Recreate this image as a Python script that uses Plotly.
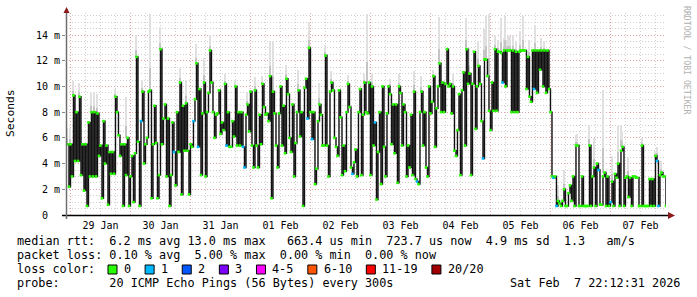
import pandas as pd
import plotly.graph_objects as go

# ---------------- data (median RTT in ms, 36-minute steps) ----------------
median_part1 = [5.5, 2.2, 5.5, 3.0, 9.3, 4.2, 8.0, 4.2, 9.2, 3.1, 5.5, 1.9, 5.5, 0.7, 7.2, 3.0, 8.0, 3.0, 8.0, 3.0,
                7.9, 4.6, 5.4, 1.3, 7.3, 4.0, 5.4, 0.8, 4.9, 3.2, 4.9, 3.2, 9.2, 8.0, 6.2, 4.6, 5.5, 0.7, 5.5, 3.1,
                6.0, 0.7, 3.0, 4.6, 1.0, 4.8, 12.3, 5.7, 0.7, 7.3, 9.6, 4.0, 5.5, 6.0, 9.6, 9.7, 1.3, 5.5, 8.5, 5.6,
                1.3, 3.1, 12.9, 5.5, 7.5, 8.6, 3.0, 7.5, 0.7, 3.1, 7.2, 4.9, 2.3, 8.0, 4.9, 10.3, 1.6, 8.5, 5.0, 8.7,
                5.0, 1.6, 5.5, 5.3, 7.3, 9.0, 11.8, 5.3, 9.8, 3.1, 7.9, 10.3, 3.0, 8.0, 9.5, 12.8, 10.3, 8.0, 6.0, 7.8]
median_part2 = [7.9, 9.7, 6.3, 7.2, 6.6, 10.2, 5.4, 8.0, 5.3, 5.3, 7.3, 6.1, 10.0, 5.4, 8.0, 5.4, 8.0, 5.3, 3.7, 7.8,
                8.6, 6.5, 9.6, 5.4, 3.7, 9.7, 5.4, 3.7, 7.8, 5.5, 10.2, 8.4, 7.8, 7.9, 7.3, 10.8, 1.3, 9.6, 7.9, 5.4,
                3.7, 7.9, 10.0, 5.4, 8.5, 4.8, 10.6, 9.4, 6.0, 4.9, 8.6, 3.0, 5.6, 8.0, 9.7, 6.1, 8.0, 0.7, 9.9, 10.6,
                7.5, 13.0, 8.0, 5.9, 8.0, 2.4, 3.6, 7.3, 8.6, 7.8, 5.4, 5.4, 12.4, 5.4, 3.0, 9.6, 10.3, 9.7, 6.0, 5.3,
                4.6, 9.7, 7.6, 3.1, 5.4, 3.4, 8.0, 10.2, 8.4, 3.7, 3.2, 4.1, 5.1, 3.0, 8.0, 9.8, 3.1, 7.8, 10.3, 8.0]
median_part3 = [7.9, 10.3, 3.1, 10.0, 5.4, 7.2, 1.2, 4.9, 8.0, 2.4, 10.0, 5.3, 3.0, 7.9, 10.0, 9.4, 5.5, 8.6, 4.8, 8.6,
                2.5, 10.0, 9.5, 5.4, 8.6, 8.0, 3.0, 5.4, 3.7, 7.8, 3.1, 9.6, 2.8, 2.6, 2.4, 8.0, 9.6, 5.4, 8.0, 3.7,
                3.0, 10.0, 7.9, 8.8, 10.8, 5.3, 8.3, 10.0, 11.8, 8.0, 10.3, 8.0, 10.2, 12.9, 10.0, 10.2, 7.9, 10.0, 5.0, 4.6,
                6.6, 9.4, 3.1, 9.7, 11.1, 5.4, 12.9, 10.2, 11.0, 3.1, 10.2, 12.7, 6.7, 10.0, 11.6, 10.2, 7.3, 4.4, 12.1, 12.1,
                10.8, 8.1, 6.6, 10.3, 8.1, 12.9, 8.1, 12.7, 12.7, 12.6, 10.3, 12.8, 10.0, 12.8, 12.8, 12.8, 8.0, 12.8, 8.0, 12.7]
median_part4 = [8.0, 12.7, 12.8, 12.8, 12.8, 12.8, 9.8, 12.3, 9.2, 8.8, 12.8, 9.8, 12.8, 9.5, 12.8, 11.3, 12.8, 10.0, 12.8, 9.5,
                12.8, 9.8, 8.0, 3.0, 2.9, 3.0, 0.7, 1.1, 0.9, 0.7, 1.1, 2.0, 0.7, 0.7, 1.7, 2.3, 1.1, 3.0, 0.7, 5.4,
                5.4, 0.7, 0.7, 3.0, 0.7, 0.7, 0.7, 0.7, 5.4, 0.7, 3.0, 3.7, 0.7, 4.0, 3.5, 0.8, 0.8, 3.0, 3.3, 0.7,
                3.0, 0.7, 1.0, 2.6, 0.7, 3.2, 2.9, 4.0, 0.7, 5.0, 5.3, 0.7, 2.9, 3.0, 1.4, 2.9, 0.7, 3.0, 3.0, 2.9,
                2.9, 0.7, 0.7, 5.4, 0.7, 0.7, 0.7, 0.7, 2.8, 0.7, 2.8, 0.7, 4.6, 4.2, 0.7, 3.1, 3.3, 3.0, 3.0, 0.7]
median_ms = median_part1 + median_part2 + median_part3 + median_part4

# samples with 1/20 packets lost (all others 0 lost)
loss1_samples = [49, 71, 84, 87, 106, 117, 118, 160, 163, 190, 205, 233, 277, 290, 311, 324, 326, 354, 362, 393, 394]

# smoke (spread of the 20 pings): sample index and top of smoke in ms
smoke_samples = [0, 2, 4, 8, 16, 18, 20, 32, 39, 46, 50, 55, 62, 75, 79, 86, 91, 95,
                 105, 112, 120, 125, 130, 135, 137, 146, 154, 161, 168, 172, 176, 187, 198,
                 200, 203, 215, 221, 231, 236, 244, 248, 253, 257, 266, 268, 274, 278, 279, 281, 285, 287,
                 289, 291, 292, 293, 294, 295, 297, 299,
                 302, 304, 308, 312, 316, 318, 327, 331, 339, 340, 348, 351, 357, 363, 367, 369, 370, 374,
                 383, 392, 393, 396]
smoke_top_ms = [6.8, 6.8, 10.4, 10.3, 9.5, 9.6, 9.4, 9.8, 9.2, 14.0, 10.4, 15.6, 14.6, 11.4, 10.5, 13.3, 12.2, 14.0,
                11.0, 10.5, 9.6, 10.7, 10.8, 13.5, 13.5, 11.7, 11.3, 15.0, 10.3, 13.2, 11.2, 10.9, 11.0,
                15.6, 11.0, 10.6, 11.0, 11.2, 10.8, 11.3, 15.4, 13.0, 11.0, 15.3, 13.0, 13.5, 14.5, 15.5, 15.6, 14.0, 13.6,
                15.3, 13.8, 15.5, 13.6, 14.0, 13.9, 14.0, 13.5,
                14.3, 15.5, 13.6, 14.8, 13.8, 13.5, 2.3, 3.5, 6.2, 6.3, 7.0, 6.0, 9.7, 4.6, 6.9, 7.0, 6.5, 4.4,
                6.0, 5.0, 5.3, 4.2]

loss_labels = ["0", "1", "2", "3", "4-5", "6-10", "11-19", "20/20"]
loss_colors = ["#26ff00", "#00b8ff", "#0059ff", "#7e00ff", "#ff00ff", "#ff5500", "#ff0000", "#a00000"]

day_labels = ["29 Jan", "30 Jan", "31 Jan", "01 Feb", "02 Feb", "03 Feb", "04 Feb", "05 Feb", "06 Feb", "07 Feb"]
y_ticks = [0, 2, 4, 6, 8, 10, 12, 14]

legend_lines = [
    "median rtt:  6.2 ms avg 13.0 ms max   663.4 us min  723.7 us now  4.9 ms sd  1.3   am/s",
    "packet loss: 0.10 % avg  5.00 % max  0.00 % min  0.00 % now",
    "loss color:",
    "probe:       20 ICMP Echo Pings (56 Bytes) every 300s",
]
stamp = "Sat Feb  7 22:12:31 2026"

# ---------------- geometry helpers ----------------
W, H = 697, 297
L, R, T, B = 66, 666, 13, 215  # plot area in px
PW, PH = R - L, B - T


def px(x):
    return (x - L) / PW


def py(y):
    return (B - y) / PH


MONO = "DejaVu Sans Mono"
times = pd.date_range("2026-01-28 22:48:00", "2026-02-07 22:12:00", periods=len(median_ms))
t_start = pd.Timestamp("2026-01-28 22:12:31")
t_end = pd.Timestamp("2026-02-07 22:12:31")
step_ms = (times[1] - times[0]).total_seconds() * 1000

loss = [0] * len(median_ms)
for i in loss1_samples:
    loss[i] = 1
marker_colors = [loss_colors[v] for v in loss]

# smoke bars
s_x, s_base, s_h, s_h2 = [], [], [], []
for i, top in zip(smoke_samples, smoke_top_ms):
    lo = max(median_ms[max(i - 1, 0):i + 2])
    s_x.append(times[i])
    s_base.append(lo)
    s_h.append(max(top - lo, 0))
    s_h2.append(max(top - lo, 0) * 0.3)

fig = go.Figure()
fig.add_trace(go.Bar(x=s_x, y=s_h, base=s_base, width=step_ms * 1.0,
                     marker=dict(color="#e0e0e0", line=dict(width=0)), hoverinfo="skip"))
fig.add_trace(go.Bar(x=s_x, y=s_h2, base=s_base, width=step_ms * 1.0,
                     marker=dict(color="#c4c4c4", line=dict(width=0)), hoverinfo="skip"))
fig.add_trace(go.Scatter(x=times, y=median_ms, mode="lines",
                         line=dict(color="#111111", width=1.4, shape="hv"), hoverinfo="skip"))
fig.add_trace(go.Scatter(x=times, y=median_ms, mode="markers",
                         marker=dict(symbol="square", size=2.6, color=marker_colors, line=dict(width=0)),
                         hoverinfo="skip"))

shapes = []
GRID_RED = "#e6a3a3"
GRID_GRAY = "#cfcfcf"
for d in pd.date_range("2026-01-29 06:00", "2026-02-07 18:00", freq="6h"):
    if d.hour != 0:
        shapes.append(dict(type="line", xref="x", yref="paper", x0=d, x1=d, y0=0, y1=1,
                           line=dict(color=GRID_GRAY, width=1, dash="1px,2px"), layer="below"))
for d in pd.date_range("2026-01-29", "2026-02-07", freq="D"):
    shapes.append(dict(type="line", xref="x", yref="paper", x0=d, x1=d, y0=0, y1=1,
                       line=dict(color=GRID_RED, width=1, dash="1px,2px"), layer="below"))

# axes lines and arrows
shapes.append(dict(type="line", xref="paper", yref="paper", x0=px(62), x1=px(670), y0=py(215.5), y1=py(215.5),
                   line=dict(color="#000000", width=1.5)))
shapes.append(dict(type="line", xref="paper", yref="paper", x0=px(66.5), x1=px(66.5), y0=py(219), y1=py(11),
                   line=dict(color="#6e6e6e", width=1.5)))
shapes.append(dict(type="path", xref="paper", yref="paper",
                   path=f"M {px(668)} {py(212)} L {px(675)} {py(215.5)} L {px(668)} {py(219)} Z",
                   fillcolor="#8b1a1a", line=dict(width=0)))
shapes.append(dict(type="path", xref="paper", yref="paper",
                   path=f"M {px(63.5)} {py(13)} L {px(66.5)} {py(7)} L {px(69.5)} {py(13)} Z",
                   fillcolor="#8b1a1a", line=dict(width=0)))

annotations = []


def add_text(x, y, text, size=11.8, color="#000000", xanchor="left", angle=0):
    annotations.append(dict(x=px(x), y=py(y), xref="paper", yref="paper", text=text.replace(" ", "\u00a0"),
                            showarrow=False, xanchor=xanchor, yanchor="middle", textangle=angle,
                            font=dict(family=MONO, size=size, color=color), borderpad=0))


line_y = [241, 255, 269, 283]
for txt, yy in zip(legend_lines, line_y):
    add_text(16, yy, txt)
add_text(681, 283, stamp, xanchor="right")

# loss colour swatches
x = 108.0
for lab, col in zip(loss_labels, loss_colors):
    shapes.append(dict(type="rect", xref="paper", yref="paper", x0=px(x), x1=px(x + 9),
                       y0=py(265), y1=py(274), fillcolor=col, line=dict(color="#000000", width=1)))
    add_text(x + 15, 269, lab)
    x = x + 15 + 7.12 * len(lab) + 15

add_text(10, 113, "Seconds", size=11.3, angle=-90, xanchor="center")
add_text(687, 60, "RRDTOOL / TOBI OETIKER", size=8.2, color="#b0b0b0", angle=90, xanchor="center")

noon = pd.date_range("2026-01-29 12:00", periods=len(day_labels), freq="D")
ytext = [("0" + "\u00a0\u00a0") if v == 0 else f"{v}\u00a0m" for v in y_ticks]

fig.update_layout(
    width=W, height=H, margin=dict(l=L, r=W - R, t=T, b=H - B),
    paper_bgcolor="white", plot_bgcolor="white", showlegend=False, barmode="overlay", bargap=0,
    shapes=shapes, annotations=annotations,
    xaxis=dict(range=[t_start, t_end], tickmode="array", tickvals=list(noon), ticktext=day_labels,
               showgrid=False, zeroline=False, showline=False, ticks="", ticklabelstandoff=3,
               tickfont=dict(family=MONO, size=10, color="#000000")),
    yaxis=dict(range=[0, PH / 12.857], tickmode="array", tickvals=y_ticks, ticktext=ytext,
               showgrid=True, gridcolor=GRID_RED, griddash="1px,2px", gridwidth=1,
               minor=dict(dtick=0.5, tick0=0, showgrid=True, gridcolor=GRID_GRAY, griddash="1px,2px"),
               zeroline=False, showline=False, ticks="outside", ticklen=3, tickcolor="#888888",
               tickfont=dict(family=MONO, size=10, color="#000000")),
)

fig.write_html("out.html")
